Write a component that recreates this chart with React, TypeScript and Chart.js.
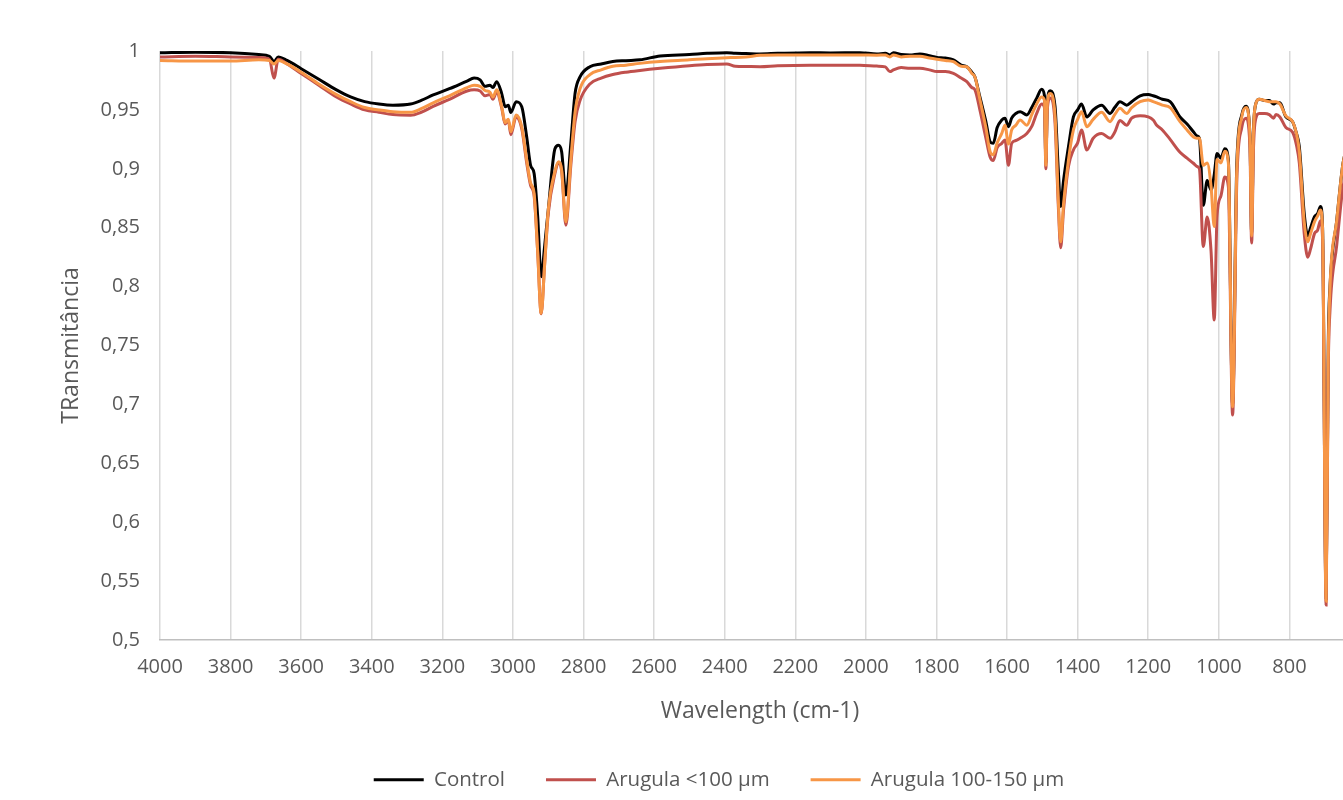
import React, { useEffect, useRef } from "react";
import { Chart, registerables } from "chart.js";

Chart.register(...registerables);

// Wavenumber (cm-1) of each sample point
const WAVENUMBERS = [
  4000, 3900, 3800, 3720, 3690, 3677, 3665, 3640, 3600, 3550,
  3500, 3460, 3420, 3380, 3340, 3290, 3260, 3226, 3180, 3130,
  3110, 3093, 3079, 3065, 3057, 3046, 3032, 3022, 3013, 3006,
  2991, 2975, 2961, 2950, 2940, 2930, 2920, 2910, 2900, 2881,
  2871, 2862, 2850, 2836, 2824, 2810, 2782, 2750, 2717, 2680,
  2640, 2583, 2500, 2450, 2394, 2370, 2340, 2300, 2250, 2158,
  2100, 2017, 1969, 1945, 1932, 1922, 1900, 1875, 1847, 1820,
  1799, 1775, 1752, 1730, 1714, 1700, 1691, 1677, 1660, 1648,
  1639, 1628, 1615, 1606, 1596, 1587, 1575, 1563, 1544, 1530,
  1516, 1502, 1494, 1490, 1486, 1478, 1464, 1455, 1448, 1440,
  1426, 1412, 1400, 1389, 1374, 1356, 1332, 1308, 1295, 1280,
  1261, 1247, 1223, 1200, 1186, 1176, 1160, 1138, 1110, 1090,
  1072, 1062, 1055, 1044, 1033, 1022, 1013, 1005, 994, 983,
  973, 961, 949, 935, 923, 912, 907, 902, 897, 885,
  870, 857, 845, 838, 827, 810, 791, 780, 772, 758,
  748, 740, 729, 720, 712, 706, 696, 690, 685, 666,
  648, 630, 610,
];

const CONTROL = [
  0.9985, 0.999, 0.9985, 0.997, 0.9955, 0.991, 0.995, 0.992, 0.985, 0.976,
  0.967, 0.961, 0.957, 0.955, 0.954, 0.955, 0.958, 0.9627, 0.968, 0.9745,
  0.977, 0.9755, 0.97, 0.971, 0.969, 0.974, 0.964, 0.9527, 0.954, 0.9477,
  0.957, 0.9527, 0.927, 0.903, 0.896, 0.86, 0.8084, 0.835, 0.865, 0.917,
  0.92, 0.9145, 0.8778, 0.9216, 0.964, 0.978, 0.9867, 0.989, 0.991, 0.9918,
  0.9925, 0.9958, 0.997, 0.998, 0.9986, 0.998, 0.9978, 0.9975, 0.998, 0.9986,
  0.9984, 0.9986, 0.9975, 0.998, 0.9966, 0.9986, 0.997, 0.9966, 0.9975, 0.996,
  0.9946, 0.994, 0.9924, 0.988, 0.9867, 0.982, 0.978, 0.961, 0.94, 0.923,
  0.9216, 0.935, 0.9414, 0.943, 0.9357, 0.943, 0.947, 0.9485, 0.9457, 0.952,
  0.96, 0.9675, 0.962, 0.905, 0.955, 0.9663, 0.9527, 0.9, 0.868, 0.89,
  0.9188, 0.944, 0.95, 0.955, 0.944, 0.95, 0.954, 0.947, 0.952, 0.957,
  0.954, 0.957, 0.962, 0.963, 0.962, 0.961, 0.959, 0.957, 0.944, 0.938,
  0.9315, 0.928, 0.926, 0.869, 0.89, 0.882, 0.895, 0.913, 0.909, 0.917,
  0.9075, 0.7, 0.905, 0.9457, 0.953, 0.93, 0.845, 0.93, 0.953, 0.959,
  0.958, 0.958, 0.955, 0.956, 0.956, 0.944, 0.94, 0.93, 0.919, 0.862,
  0.843, 0.85, 0.8594, 0.862, 0.868, 0.85, 0.535, 0.75, 0.8, 0.856,
  0.905, 0.925, 0.94,
];

const ARUGULA_LT100 = [
  0.995, 0.9955, 0.995, 0.9945, 0.993, 0.977, 0.993, 0.989, 0.981, 0.971,
  0.961, 0.955, 0.95, 0.948, 0.946, 0.9455, 0.948, 0.953, 0.959, 0.966,
  0.967, 0.966, 0.962, 0.963, 0.959, 0.965, 0.952, 0.938, 0.941, 0.929,
  0.944, 0.934, 0.905, 0.886, 0.877, 0.83, 0.777, 0.82, 0.862, 0.896,
  0.905, 0.898, 0.852, 0.903, 0.94, 0.958, 0.972, 0.977, 0.98, 0.982,
  0.9835, 0.9853, 0.9875, 0.9885, 0.989, 0.987, 0.9868, 0.9867, 0.9875, 0.988,
  0.9879, 0.988, 0.9872, 0.9865, 0.9825, 0.984, 0.986, 0.9853, 0.9853, 0.984,
  0.9825, 0.9825, 0.981, 0.977, 0.974, 0.969, 0.967, 0.95, 0.926, 0.91,
  0.907, 0.918, 0.9216, 0.9245, 0.903, 0.9216, 0.924, 0.926, 0.93, 0.936,
  0.947, 0.955, 0.952, 0.9, 0.95, 0.96, 0.9386, 0.87, 0.833, 0.865,
  0.902, 0.916, 0.922, 0.933, 0.916, 0.926, 0.93, 0.926, 0.931, 0.941,
  0.937, 0.943, 0.945, 0.944, 0.9414, 0.937, 0.933, 0.925, 0.914, 0.909,
  0.9047, 0.902, 0.9, 0.834, 0.859, 0.83, 0.7716, 0.86, 0.877, 0.893,
  0.885, 0.691, 0.89, 0.935, 0.943, 0.92, 0.837, 0.915, 0.94, 0.947,
  0.947, 0.946, 0.943, 0.946, 0.944, 0.935, 0.931, 0.92, 0.905, 0.845,
  0.825, 0.832, 0.845, 0.848, 0.856, 0.84, 0.5297, 0.73, 0.78, 0.835,
  0.885, 0.905, 0.92,
];

const ARUGULA_100_150 = [
  0.992, 0.9915, 0.9915, 0.9925, 0.992, 0.989, 0.992, 0.989, 0.982, 0.972,
  0.963, 0.957, 0.952, 0.95, 0.9485, 0.948, 0.951, 0.956, 0.962, 0.969,
  0.971, 0.97, 0.9665, 0.965, 0.961, 0.967, 0.953, 0.939, 0.942, 0.9315,
  0.9457, 0.9357, 0.9075, 0.888, 0.879, 0.83, 0.7773, 0.82, 0.865, 0.898,
  0.906, 0.899, 0.855, 0.9075, 0.948, 0.968, 0.98, 0.984, 0.987, 0.988,
  0.9895, 0.991, 0.9925, 0.9935, 0.9943, 0.9945, 0.995, 0.9963, 0.9966, 0.9966,
  0.9966, 0.9966, 0.9964, 0.9966, 0.995, 0.9966, 0.995, 0.9955, 0.9955, 0.994,
  0.993, 0.992, 0.991, 0.987, 0.9867, 0.981, 0.978, 0.959, 0.935, 0.9145,
  0.912, 0.922, 0.93, 0.937, 0.921, 0.933, 0.937, 0.9414, 0.937, 0.946,
  0.955, 0.961, 0.958, 0.903, 0.955, 0.964, 0.945, 0.875, 0.838, 0.87,
  0.9075, 0.933, 0.942, 0.9485, 0.9357, 0.942, 0.948, 0.94, 0.946, 0.9513,
  0.947, 0.952, 0.957, 0.9585, 0.957, 0.956, 0.954, 0.952, 0.94, 0.933,
  0.927, 0.926, 0.926, 0.903, 0.905, 0.885, 0.851, 0.908, 0.905, 0.915,
  0.905, 0.698, 0.9, 0.944, 0.952, 0.93, 0.843, 0.93, 0.953, 0.959,
  0.958, 0.957, 0.957, 0.957, 0.955, 0.945, 0.94, 0.93, 0.915, 0.855,
  0.838, 0.845, 0.855, 0.86, 0.865, 0.848, 0.533, 0.74, 0.8, 0.856,
  0.905, 0.925, 0.94,
];

const SERIES_LABELS = ["Control", "Arugula <100 µm", "Arugula 100-150 µm"];
const SERIES_COLORS = ["#000000", "#C0504D", "#F79646"];

const X_TICKS = [
  4000, 3800, 3600, 3400, 3200, 3000, 2800, 2600, 2400, 2200,
  2000, 1800, 1600, 1400, 1200, 1000, 800,
];
const Y_TICKS = [0.5, 0.55, 0.6, 0.65, 0.7, 0.75, 0.8, 0.85, 0.9, 0.95, 1];

const X_TITLE = "Wavelength (cm-1)";
const Y_TITLE = "TRansmitância";

const FONT = "'Open Sans', 'Liberation Sans', sans-serif";
const TEXT_COLOR = "#595959";

export default function App() {
  const canvasRef = useRef<HTMLCanvasElement | null>(null);

  useEffect(() => {
    const canvas = canvasRef.current;
    if (!canvas) return;
    const series = [CONTROL, ARUGULA_LT100, ARUGULA_100_150];
    const chart = new Chart(canvas, {
      type: "line",
      data: {
        datasets: series.map((vals, i) => ({
          label: SERIES_LABELS[i],
          data: WAVENUMBERS.map((w, j) => ({ x: w, y: vals[j] })),
          borderColor: SERIES_COLORS[i],
          backgroundColor: SERIES_COLORS[i],
          borderWidth: 3,
          pointRadius: 0,
          pointHoverRadius: 0,
          fill: false,
          cubicInterpolationMode: "monotone" as const,
          order: 3 - i,
        })),
      },
      options: {
        animation: false,
        responsive: false,
        maintainAspectRatio: false,
        layout: { padding: { top: 51, left: 0, right: 0, bottom: 0 } },
        plugins: {
          tooltip: { enabled: false },
          legend: {
            display: true,
            position: "bottom",
            labels: {
              usePointStyle: true,
              pointStyle: "line",
              pointStyleWidth: 50,
              padding: 41,
              color: TEXT_COLOR,
              font: { family: FONT, size: 20.5 },
              sort: (a: any, b: any) => a.datasetIndex - b.datasetIndex,
            },
          },
        },
        scales: {
          x: {
            type: "linear",
            reverse: true,
            min: 600,
            max: 4000,
            afterBuildTicks: (scale: any) => {
              scale.ticks = X_TICKS.map((v) => ({ value: v }));
            },
            afterFit: (scale: any) => {
              scale.height = 88.5;
            },
            ticks: {
              color: TEXT_COLOR,
              font: { family: FONT, size: 20 },
              padding: 15,
              maxRotation: 0,
              autoSkip: false,
              callback: (v: any) => String(v),
            },
            grid: {
              display: true,
              color: "#D9D9D9",
              lineWidth: 1.5,
              drawTicks: false,
            },
            border: { display: true, color: "#BFBFBF", width: 1.5 },
            title: {
              display: true,
              text: X_TITLE,
              color: TEXT_COLOR,
              font: { family: FONT, size: 23 },
              padding: { top: 4, bottom: 3.5 },
            },
          },
          y: {
            type: "linear",
            position: "left",
            min: 0.5,
            max: 1,
            afterBuildTicks: (scale: any) => {
              scale.ticks = Y_TICKS.map((v) => ({ value: v }));
            },
            afterFit: (scale: any) => {
              scale.width = 160;
            },
            ticks: {
              color: TEXT_COLOR,
              font: { family: FONT, size: 20 },
              padding: 20,
              callback: (v: any) =>
                String(Math.round(Number(v) * 100) / 100).replace(".", ","),
            },
            grid: { display: false, drawTicks: false },
            border: { display: false },
            title: {
              display: true,
              text: Y_TITLE,
              color: TEXT_COLOR,
              font: { family: FONT, size: 23 },
              padding: { top: 58, bottom: 0 },
            },
          },
          yRight: {
            type: "linear",
            position: "right",
            display: true,
            afterFit: (scale: any) => {
              scale.width = 78;
            },
            ticks: { display: false },
            grid: { display: false, drawTicks: false },
            border: { display: false },
          },
        },
      },
    } as any);
    return () => chart.destroy();
  }, []);

  return (
    <div
      style={{
        position: "absolute",
        left: 0,
        top: 0,
        width: 1343,
        height: 800,
        overflow: "hidden",
        background: "#ffffff",
      }}
    >
      <div style={{ position: "relative", width: 1438, height: 800 }}>
        <canvas
          ref={canvasRef}
          width={1438}
          height={800}
          style={{ display: "block", width: 1438, height: 800 }}
        />
      </div>
    </div>
  );
}
